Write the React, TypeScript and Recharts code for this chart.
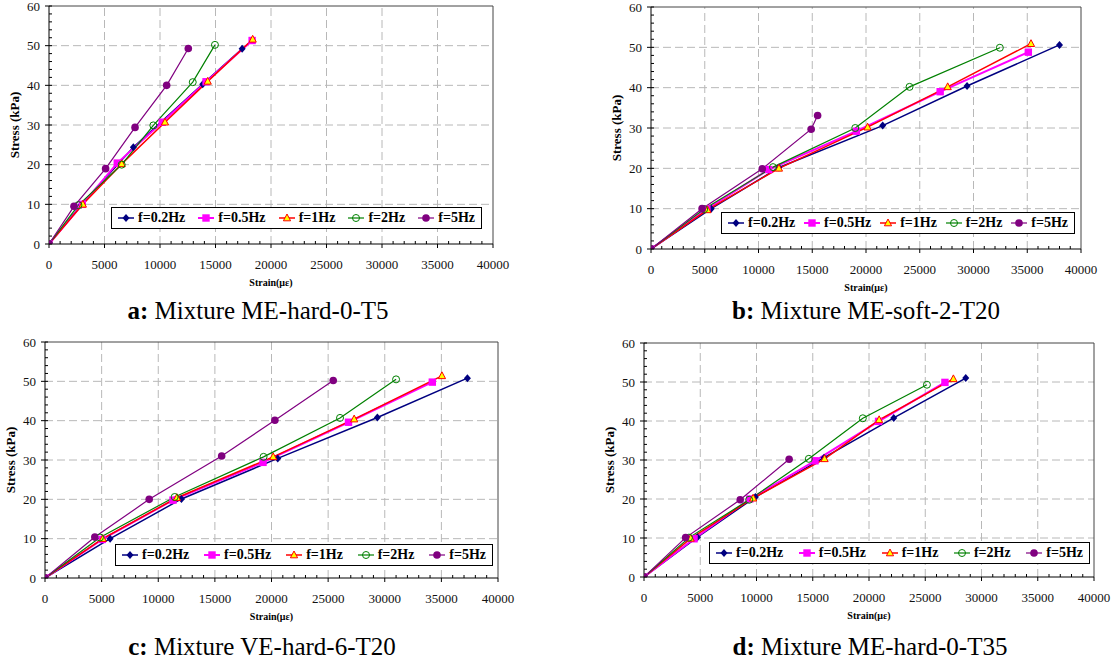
import { LineChart, Line, XAxis, YAxis, ReferenceLine, Legend } from "recharts";

type Pt = [number, number];

const seriesNames = ["f=0.2Hz", "f=0.5Hz", "f=1Hz", "f=2Hz", "f=5Hz"];

const xMajorTicks = [0, 5000, 10000, 15000, 20000, 25000, 30000, 35000, 40000];
const yMajorTicks = [0, 10, 20, 30, 40, 50, 60];

// panel a: Mixture ME-hard-0-T5
const a02: Pt[] = [[0, 0], [2900, 9.9], [7600, 24.4], [13850, 40.3], [17400, 49.2]];
const a05: Pt[] = [[0, 0], [3000, 10], [6150, 20.4], [10200, 30.7], [14150, 40.9], [18300, 51.3]];
const a1: Pt[] = [[0, 0], [3050, 10], [6550, 20.2], [10450, 30.7], [14300, 41], [18350, 51.6]];
const a2: Pt[] = [[0, 0], [2650, 9.8], [6550, 20], [9400, 29.9], [12950, 40.8], [14950, 50.2]];
const a5: Pt[] = [[0, 0], [2250, 9.5], [5100, 19], [7750, 29.4], [10600, 40], [12550, 49.3]];

// panel b: Mixture ME-soft-2-T20
const b02: Pt[] = [[0, 0], [5600, 10], [11900, 20.2], [21550, 30.6], [29400, 40.4], [38000, 50.6]];
const b05: Pt[] = [[0, 0], [5200, 9.9], [10950, 19.7], [19100, 29.2], [26900, 39], [35100, 48.8]];
const b1: Pt[] = [[0, 0], [5250, 9.7], [11900, 20], [20150, 30.2], [27600, 40.2], [35350, 50.9]];
const b2: Pt[] = [[0, 0], [4950, 9.9], [11350, 20.3], [19000, 30], [24050, 40.2], [32450, 49.9]];
const b5: Pt[] = [[0, 0], [4750, 10], [10350, 19.9], [14900, 29.7], [15500, 33.1]];

// panel c: Mixture VE-hard-6-T20
const c02: Pt[] = [[0, 0], [5750, 10], [12050, 20.1], [20550, 30.4], [29350, 40.8], [37300, 50.8]];
const c05: Pt[] = [[0, 0], [5050, 9.8], [11300, 19.8], [19250, 29.4], [26800, 39.6], [34200, 49.8]];
const c1: Pt[] = [[0, 0], [5100, 10], [11650, 20.4], [20150, 30.8], [27300, 40.4], [35050, 51.4]];
const c2: Pt[] = [[0, 0], [4850, 10.3], [11450, 20.6], [19300, 30.8], [26050, 40.7], [31000, 50.5]];
const c5: Pt[] = [[0, 0], [4400, 10.4], [9200, 20], [15600, 31], [20300, 40.1], [25450, 50.2]];

// panel d: Mixture ME-hard-0-T35
const d02: Pt[] = [[0, 0], [4750, 10.2], [9900, 20.5], [16000, 30.6], [22200, 40.8], [28600, 51]];
const d05: Pt[] = [[0, 0], [4450, 9.8], [9400, 20], [15200, 29.8], [20850, 39.9], [26750, 49.9]];
const d1: Pt[] = [[0, 0], [4150, 9.9], [9700, 20.2], [16050, 30.3], [20900, 40.3], [27500, 50.8]];
const d2: Pt[] = [[0, 0], [4000, 10.1], [9350, 19.8], [14650, 30.3], [19450, 40.7], [25150, 49.3]];
const d5: Pt[] = [[0, 0], [3700, 10.1], [8550, 19.8], [12900, 30.2]];

const FONT = "Liberation Serif, Times New Roman, serif";

const STYLES = [
  { color: "#000080", width: 1.5, marker: "diamond" },
  { color: "#FF00FF", width: 2, marker: "square" },
  { color: "#FF0000", width: 1.5, marker: "triangle" },
  { color: "#008000", width: 1.2, marker: "open" },
  { color: "#800080", width: 1.2, marker: "circle" },
];

const allXTicks = Array.from({ length: 41 }, (_, i) => i * 1000);
const allYTicks = Array.from({ length: 31 }, (_, i) => i * 2);

function marker(kind: string, cx: number, cy: number, color: string, key?: string) {
  switch (kind) {
    case "diamond":
      return (
        <polygon key={key} points={`${cx},${cy - 4} ${cx + 3.5},${cy} ${cx},${cy + 4} ${cx - 3.5},${cy}`} fill={color} />
      );
    case "square":
      return <rect key={key} x={cx - 3.7} y={cy - 3.7} width={7.4} height={7.4} fill={color} />;
    case "triangle":
      return (
        <polygon
          key={key}
          points={`${cx},${cy - 4} ${cx + 3.6},${cy + 2.8} ${cx - 3.6},${cy + 2.8}`}
          fill="#FFFF00"
          stroke={color}
          strokeWidth={1}
        />
      );
    case "open":
      return <circle key={key} cx={cx} cy={cy} r={3.5} fill="none" stroke={color} strokeWidth={1} />;
    default:
      return <circle key={key} cx={cx} cy={cy} r={3.8} fill={color} />;
  }
}

const tickText = { fontFamily: FONT, fontSize: 13 };

const XTick = (props: any) => {
  const { x, y, payload } = props;
  const v = payload.value;
  const major = v % 5000 === 0;
  return (
    <g>
      <line x1={x} x2={x} y1={major ? y : y - 3} y2={major ? y + 4 : y} stroke="#000" />
      {major && (
        <text x={x} y={y + 25} textAnchor="middle" fill="#111" style={tickText}>
          {v}
        </text>
      )}
    </g>
  );
};

const YTick = (props: any) => {
  const { x, y, payload } = props;
  const v = payload.value;
  const major = v % 10 === 0;
  return (
    <g>
      <line x1={major ? x - 4 : x} x2={x + 3} y1={y} y2={y} stroke="#000" />
      {major && (
        <text x={x - 9} y={y + 4.5} textAnchor="end" fill="#111" style={tickText}>
          {v}
        </text>
      )}
    </g>
  );
};

type PanelProps = {
  plotLeft: number;
  plotTop: number;
  plotW: number;
  plotH: number;
  series: Pt[][];
  legend: { x: number; y: number; w: number };
  letter: string;
  title: string;
  capCx: number;
  capBase: number;
};

function Panel({ plotLeft, plotTop, plotW, plotH, series, legend, letter, title, capCx, capBase }: PanelProps) {
  const padL = 45;
  const padT = 6;
  const padR = 25;
  const padB = 50;
  const renderLegend = () => (
    <div
      style={{
        boxSizing: "border-box",
        width: legend.w,
        height: 22,
        border: "1px solid #000",
        background: "#fff",
        display: "flex",
        alignItems: "center",
        justifyContent: "space-between",
        padding: "0 6px",
        fontFamily: FONT,
        fontWeight: "bold",
        fontSize: 14,
        color: "#000",
      }}
    >
      {seriesNames.map((name, i) => (
        <div key={name} style={{ display: "flex", alignItems: "center" }}>
          <svg width={16} height={10} style={{ overflow: "visible" }}>
            <line x1={0} y1={5} x2={16} y2={5} stroke={STYLES[i].color} strokeWidth={STYLES[i].width} />
            {marker(STYLES[i].marker, 8, 5, STYLES[i].color)}
          </svg>
          <span style={{ marginLeft: 4 }}>{name}</span>
        </div>
      ))}
    </div>
  );

  return (
    <>
      <div style={{ position: "absolute", left: plotLeft - padL, top: plotTop - padT }}>
        <LineChart
          width={plotW + padL + padR}
          height={plotH + padT + padB}
          margin={{ top: padT, right: padR, bottom: 0, left: 0 }}
        >
          <XAxis
            type="number"
            dataKey="x"
            domain={[0, 40000]}
            ticks={allXTicks}
            interval={0}
            tickSize={0}
            tickMargin={0}
            tickLine={false}
            tick={XTick}
            axisLine={{ stroke: "#000" }}
            allowDataOverflow
            height={padB}
          />
          <YAxis
            type="number"
            domain={[0, 60]}
            ticks={allYTicks}
            interval={0}
            tickSize={0}
            tickMargin={0}
            tickLine={false}
            tick={YTick}
            axisLine={{ stroke: "#000" }}
            allowDataOverflow
            width={padL}
          />
          {xMajorTicks.slice(1, -1).map((v) => (
            <ReferenceLine key={`gx${v}`} x={v} stroke="#b8b8b8" strokeDasharray="8 4" />
          ))}
          {yMajorTicks.slice(1, -1).map((v) => (
            <ReferenceLine key={`gy${v}`} y={v} stroke="#b8b8b8" strokeDasharray="8 4" />
          ))}
          <ReferenceLine x={40000} stroke="#444" />
          <ReferenceLine y={60} stroke="#444" />
          {series.map((pts, i) => (
            <Line
              key={seriesNames[i]}
              name={seriesNames[i]}
              data={pts.map(([x, y]) => ({ x, y }))}
              dataKey="y"
              type="linear"
              stroke={STYLES[i].color}
              strokeWidth={STYLES[i].width}
              isAnimationActive={false}
              activeDot={false}
              dot={(p: any) => marker(STYLES[i].marker, p.cx, p.cy, STYLES[i].color, `${seriesNames[i]}-${p.index}`)}
            />
          ))}
          <Legend
            layout="horizontal"
            verticalAlign="middle"
            align="center"
            wrapperStyle={{ left: padL + legend.x, top: padT + legend.y, width: legend.w, height: 22 }}
            content={renderLegend}
          />
        </LineChart>
      </div>
      <div
        style={{
          position: "absolute",
          left: plotLeft - 34 - 60,
          top: plotTop + plotH / 2 - 8,
          width: 120,
          height: 16,
          lineHeight: "16px",
          textAlign: "center",
          transform: "rotate(-90deg)",
          fontFamily: FONT,
          fontWeight: "bold",
          fontSize: 13,
        }}
      >
        Stress (kPa)
      </div>
      <div
        style={{
          position: "absolute",
          left: plotLeft,
          width: plotW,
          top: plotTop + plotH + 42 - 8.5,
          lineHeight: "10px",
          textAlign: "center",
          fontFamily: FONT,
          fontWeight: "bold",
          fontSize: 10,
        }}
      >
        Strain(με)
      </div>
      <div
        style={{
          position: "absolute",
          left: capCx - 200,
          width: 400,
          top: capBase - 21,
          lineHeight: "25px",
          textAlign: "center",
          fontFamily: FONT,
          fontSize: 25,
          whiteSpace: "nowrap",
        }}
      >
        <b>{letter}:</b> {title}
      </div>
    </>
  );
}

export default function App() {
  return (
    <div style={{ position: "absolute", left: 0, top: 0, width: 1120, height: 664, background: "#fff" }}>
      <Panel
        plotLeft={49}
        plotTop={6}
        plotW={444}
        plotH={238}
        series={[a02, a05, a1, a2, a5]}
        legend={{ x: 62, y: 201, w: 371 }}
        letter="a"
        title="Mixture ME-hard-0-T5"
        capCx={258}
        capBase={319}
      />
      <Panel
        plotLeft={651}
        plotTop={7}
        plotW={430}
        plotH={242}
        series={[b02, b05, b1, b2, b5]}
        legend={{ x: 70, y: 205, w: 354 }}
        letter="b"
        title="Mixture ME-soft-2-T20"
        capCx={866}
        capBase={319}
      />
      <Panel
        plotLeft={45}
        plotTop={342}
        plotW={453}
        plotH={236}
        series={[c02, c05, c1, c2, c5]}
        legend={{ x: 70, y: 202, w: 378 }}
        letter="c"
        title="Mixture VE-hard-6-T20"
        capCx={262}
        capBase={655}
      />
      <Panel
        plotLeft={644}
        plotTop={343}
        plotW={450}
        plotH={234}
        series={[d02, d05, d1, d2, d5]}
        legend={{ x: 65, y: 199, w: 381 }}
        letter="d"
        title="Mixture ME-hard-0-T35"
        capCx={870}
        capBase={655}
      />
    </div>
  );
}
